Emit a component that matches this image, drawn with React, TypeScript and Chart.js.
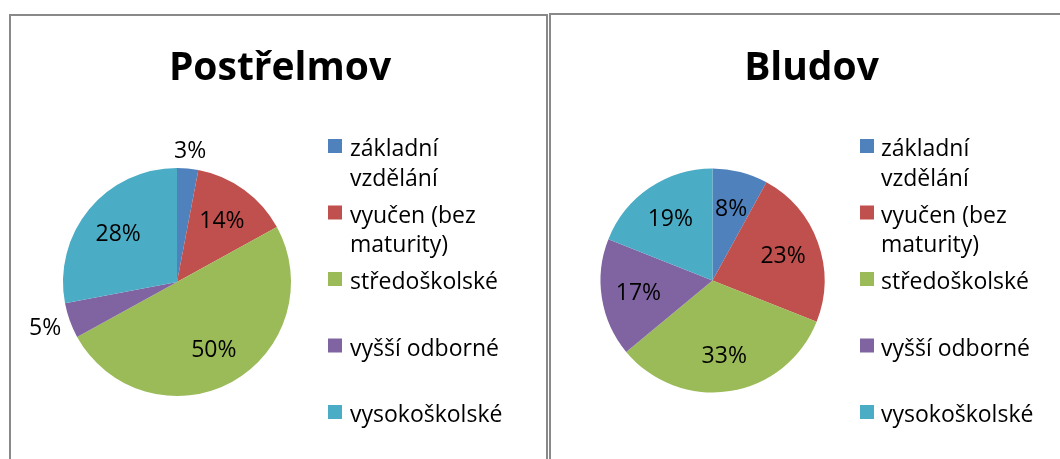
import React, { useEffect, useRef } from "react";
import { Chart, registerables } from "chart.js";

Chart.register(...registerables);

// ---- data ----
const categories = [
  "základní vzdělání",
  "vyučen (bez maturity)",
  "středoškolské",
  "vyšší odborné",
  "vysokoškolské",
];
const postrelmovValues = [3, 14, 50, 5, 28];
const bludovValues = [8, 23, 33, 17, 19];
const seriesColors = ["#4F81BD", "#C0504D", "#9BBB59", "#8064A2", "#4BACC6"];
const panelTitles = ["Postřelmov", "Bludov"];

const FONT = '"Open Sans", "DejaVu Sans", sans-serif';

type Layout = {
  left: number;
  top: number;
  width: number;
  height: number;
  cx: number;
  cy: number;
  r: number;
  titleX: number;
  titleBaseline: number;
  legendBoxX: number;
  legendTextX: number;
  legendY0: number;
  legendStep: number;
};

const BORDER = 2;

const layouts: Layout[] = [
  {
    left: 9,
    top: 14,
    width: 539,
    height: 470,
    cx: 177,
    cy: 282,
    r: 114,
    titleX: 280,
    titleBaseline: 80,
    legendBoxX: 328,
    legendTextX: 350,
    legendY0: 146,
    legendStep: 66.5,
  },
  {
    left: 549,
    top: 13,
    width: 525,
    height: 470,
    cx: 712.5,
    cy: 280.5,
    r: 112,
    titleX: 811.5,
    titleBaseline: 80,
    legendBoxX: 860,
    legendTextX: 881,
    legendY0: 146,
    legendStep: 66.5,
  },
];

function wrapText(ctx: CanvasRenderingContext2D, text: string, maxW: number): string[] {
  const words = text.split(" ");
  const lines: string[] = [];
  let cur = "";
  for (const w of words) {
    const test = cur ? cur + " " + w : w;
    if (ctx.measureText(test).width > maxW && cur) {
      lines.push(cur);
      cur = w;
    } else {
      cur = test;
    }
  }
  if (cur) lines.push(cur);
  return lines;
}

function makeDecorPlugin(title: string, lay: Layout) {
  const ox = lay.left + BORDER;
  const oy = lay.top + BORDER;
  return {
    id: "decor",
    afterDraw(chart: any) {
      const ctx: CanvasRenderingContext2D = chart.ctx;
      ctx.save();
      // title
      ctx.fillStyle = "#000";
      ctx.font = `bold 39px ${FONT}`;
      ctx.textAlign = "center";
      ctx.textBaseline = "alphabetic";
      ctx.fillText(title, lay.titleX - ox, lay.titleBaseline - oy);

      // legend
      const labels: string[] = chart.data.labels;
      const colors: string[] = chart.data.datasets[0].backgroundColor;
      ctx.font = `23px ${FONT}`;
      ctx.textAlign = "left";
      labels.forEach((lab, i) => {
        const cyBox = lay.legendY0 + i * lay.legendStep - oy;
        ctx.fillStyle = colors[i];
        ctx.fillRect(lay.legendBoxX - ox, cyBox - 7, 14, 14);
        ctx.fillStyle = "#000";
        const lines = wrapText(ctx, lab, 165);
        lines.forEach((ln, j) => {
          ctx.fillText(ln, lay.legendTextX - ox, cyBox + 10 + j * 29.5);
        });
      });

      // data labels
      const meta = chart.getDatasetMeta(0);
      const values: number[] = chart.data.datasets[0].data;
      const total = values.reduce((a, b) => a + b, 0);
      ctx.font = `23px ${FONT}`;
      ctx.textAlign = "center";
      ctx.fillStyle = "#000";
      meta.data.forEach((arc: any, i: number) => {
        const p = arc.getProps(["x", "y", "startAngle", "endAngle", "outerRadius"], true);
        const mid = (p.startAngle + p.endAngle) / 2;
        const dx = Math.cos(mid);
        const dy = Math.sin(mid);
        const pct = Math.round((values[i] / total) * 100);
        const text = pct + "%";
        let lx: number, ly: number;
        if (pct < 7) {
          const w = ctx.measureText(text).width;
          const d = p.outerRadius + 10;
          lx = p.x + dx * d + dx * (w / 2);
          ly = p.y + dy * d + dy * 9;
        } else {
          const d = p.outerRadius * 0.67;
          lx = p.x + dx * d;
          ly = p.y + dy * d;
        }
        ctx.fillText(text, lx, ly + 8);
      });
      ctx.restore();
    },
  };
}

function PiePanel({ title, values, lay }: { title: string; values: number[]; lay: Layout }) {
  const ref = useRef<HTMLCanvasElement | null>(null);
  const cw = lay.width - 2 * BORDER;
  const ch = lay.height - 2 * BORDER;
  useEffect(() => {
    if (!ref.current) return;
    const ox = lay.left + BORDER;
    const oy = lay.top + BORDER;
    const cx = lay.cx - ox;
    const cy = lay.cy - oy;
    const chart = new Chart(ref.current, {
      type: "pie",
      data: {
        labels: categories,
        datasets: [
          {
            data: values,
            backgroundColor: seriesColors,
            borderWidth: 0,
            hoverOffset: 0,
          },
        ],
      },
      options: {
        responsive: false,
        animation: false,
        devicePixelRatio: 1,
        layout: {
          padding: {
            left: cx - lay.r,
            top: cy - lay.r,
            right: cw - (cx + lay.r),
            bottom: ch - (cy + lay.r),
          },
        },
        plugins: {
          legend: { display: false },
          title: { display: false },
          tooltip: { enabled: false },
        },
        events: [],
      },
      plugins: [makeDecorPlugin(title, lay)],
    } as any);
    return () => chart.destroy();
  }, []);
  return (
    <div
      style={{
        position: "absolute",
        left: lay.left,
        top: lay.top,
        width: lay.width,
        height: lay.height,
        boxSizing: "border-box",
        border: `${BORDER}px solid #898989`,
        background: "#fff",
      }}
    >
      <canvas
        ref={ref}
        width={cw}
        height={ch}
        style={{ display: "block", width: cw, height: ch }}
      />
    </div>
  );
}

export default function App() {
  return (
    <div
      style={{
        position: "absolute",
        left: 0,
        top: 0,
        width: 1060,
        height: 459,
        overflow: "hidden",
        background: "#fff",
      }}
    >
      <PiePanel title={panelTitles[0]} values={postrelmovValues} lay={layouts[0]} />
      <PiePanel title={panelTitles[1]} values={bludovValues} lay={layouts[1]} />
    </div>
  );
}
